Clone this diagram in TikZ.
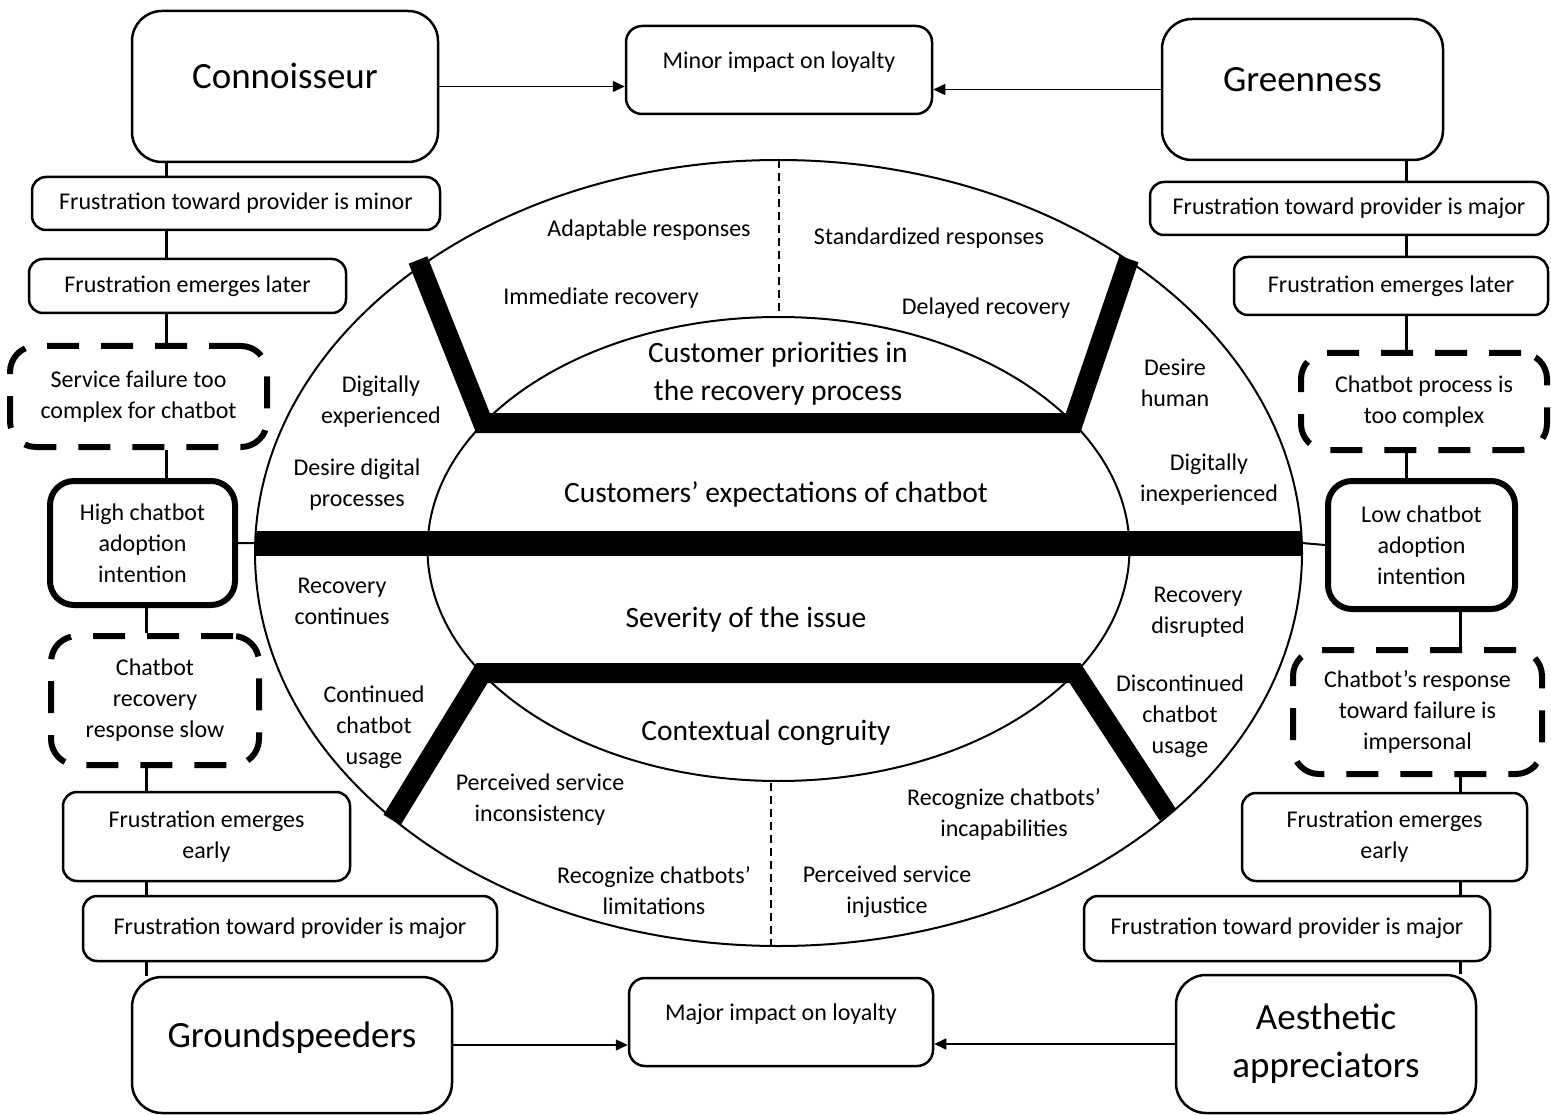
\documentclass[tikz,border=0pt]{standalone}
\usepackage{fontspec}
\setmainfont{Carlito}
\usetikzlibrary{arrows.meta}

\begin{document}
\begin{tikzpicture}[x=1pt,y=-1pt,line join=round,>={Triangle[length=12pt,width=11pt]}]
	\tikzset{every node/.style={font=\fontsize{24}{31}\selectfont,align=center,inner sep=0pt},
		sz/.style 2 args={minimum width=#1pt,minimum height=#2pt},
		box/.style={draw,line width=2.5pt,rounded corners=14pt},
		bigbox/.style={draw,line width=2.5pt,rounded corners=30pt,font=\fontsize{37}{48}\selectfont},
		dbox/.style={draw,line width=6pt,rounded corners=26pt,dash pattern=on 32pt off 22pt},
		tbox/.style={draw,line width=6pt,rounded corners=24pt},
		impact/.style={draw,line width=2.5pt,rounded corners=16pt,font=\fontsize{24}{30}\selectfont,text depth=20pt},
		title/.style={font=\fontsize{29.5}{38}\selectfont},
		link/.style={line width=3pt},
		arr/.style={->,line width=1.5pt},
		bar/.style={line width=20pt,line join=miter},
		sep/.style={line width=1.5pt,dash pattern=on 8pt off 5pt}}
	\useasboundingbox (0,0) rectangle (1551,1115);
	\draw[line width=2pt] (778.5,553) ellipse [x radius=523.5,y radius=393];
	\draw[line width=2pt] (778.5,549) ellipse [x radius=351,y radius=232];
	\draw[sep] (779,160)--(779,317) (771,783)--(771,946);
	\draw[bar] (418,260)--(483,423)--(1073,423)--(1129,259);
	\draw[bar] (392,820)--(482,673)--(1075,673)--(1168,815);
	\coordinate (barL) at (255,543);
	\coordinate (barR) at (1302,543);
	\draw[line width=25pt] (barL)--(barR);

	\node (adapt) at (649,230) {Adaptable responses};
	\node (stand) at (929,238) {Standardized responses};
	\node (immed) at (601,298) {Immediate recovery};
	\node (delay) at (986,308) {Delayed recovery};
	\node[title] (prior) at (778,374) {Customer priorities in\\the recovery process};
	\node[title] (expect) at (776,494) {Customers’ expectations of chatbot};
	\node[title] (sever) at (746,620) {Severity of the issue};
	\node[title] (congr) at (766,733) {Contextual congruity};
	\node (digexp) at (381,402) {Digitally\\experienced};
	\node (desdig) at (357,485) {Desire digital\\processes};
	\node (reccont) at (342,601) {Recovery\\continues};
	\node (contuse) at (374,727) {Continued\\chatbot\\usage};
	\node (incons) at (540,800) {Perceived service\\inconsistency};
	\node (limit) at (654,891) {Recognize chatbots’\\limitations};
	\node (injust) at (887,892) {Perceived service\\injustice};
	\node (incap) at (1004,814) {Recognize chatbots’\\incapabilities};
	\node (deshum) at (1175,383) {Desire\\human};
	\node (diginexp) at (1209,480) {Digitally\\inexperienced};
	\node (recdis) at (1198,612) {Recovery\\disrupted};
	\node (discuse) at (1180,716) {Discontinued\\chatbot\\usage};

	\node[bigbox,sz={306}{151},text depth=22pt] (conn) at (285,86.5) {Connoisseur};
	\node[box,sz={408}{53}] (fminL) at (236,203.5) {Frustration toward provider is minor};
	\node[box,sz={317}{54}] (flateL) at (187.5,286) {Frustration emerges later};
	\node[dbox,sz={257}{101}] (sfail) at (138.5,396.5) {Service failure too\\complex for chatbot};
	\node[tbox,sz={185}{124}] (highad) at (142.5,543) {High chatbot\\adoption\\intention};
	\node[dbox,sz={208}{129}] (slowrec) at (155,700.5) {Chatbot\\recovery\\response slow};
	\node[box,sz={287}{89}] (fearlyL) at (206.5,836.5) {Frustration emerges\\early};
	\node[box,sz={414}{65}] (fmajL) at (290,928.5) {Frustration toward provider is major};
	\node[bigbox,sz={320}{136},text depth=21pt] (ground) at (292,1045) {Groundspeeders};

	\node[bigbox,sz={281}{141},text depth=19.5pt] (green) at (1302.5,89.5) {Greenness};
	\node[box,sz={398}{53}] (fmajR) at (1349,208.5) {Frustration toward provider is major};
	\node[box,sz={314}{58}] (flateR) at (1391,286) {Frustration emerges later};
	\node[dbox,sz={246}{97}] (cproc) at (1424,401.5) {Chatbot process is\\too complex};
	\node[tbox,sz={187}{128}] (lowad) at (1421.5,545) {Low chatbot\\adoption\\intention};
	\node[dbox,sz={249}{124}] (impers) at (1417.5,712) {Chatbot’s response\\toward failure is\\impersonal};
	\node[box,sz={285}{88}] (fearlyR) at (1384.5,837) {Frustration emerges\\early};
	\node[box,sz={406}{65}] (fmajRb) at (1287,928.5) {Frustration toward provider is major};
	\node[bigbox,sz={300}{138}] (aesth) at (1326,1044) {Aesthetic\\appreciators};

	\node[impact,sz={306}{88}] (minor) at (779,70) {Minor impact on loyalty};
	\node[impact,sz={304}{88}] (major) at (781,1022) {Major impact on loyalty};

	\coordinate (lc1) at (166,0);
	\coordinate (lc2) at (146,0);
	\coordinate (rc1) at (1406,0);
	\coordinate (rc2) at (1460,0);
	\draw[link] (conn.south -| lc1)--(fminL.north -| lc1);
	\draw[link] (fminL.south -| lc1)--(flateL.north -| lc1);
	\draw[link] (flateL.south -| lc1)--(sfail.north -| lc1);
	\draw[link] (sfail.south -| lc1)--(highad.north -| lc1);
	\draw[link] (highad.south -| lc2)--(slowrec.north -| lc2);
	\draw[link] (slowrec.south -| lc2)--(fearlyL.north -| lc2);
	\draw[link] (fearlyL.south -| lc2)--(fmajL.north -| lc2);
	\draw[link] (fmajL.south -| lc2)--(ground.north -| lc2);
	\draw[link] (green.south -| rc1)--(fmajR.north -| rc1);
	\draw[link] (fmajR.south -| rc1)--(flateR.north -| rc1);
	\draw[link] (flateR.south -| rc1)--(cproc.north -| rc1);
	\draw[link] (cproc.south -| rc1)--(lowad.north -| rc1);
	\draw[link] (lowad.south -| rc2)--(impers.north -| rc2);
	\draw[link] (impers.south -| rc2)--(fearlyR.north -| rc2);
	\draw[link] (fearlyR.south -| rc2)--(fmajRb.north -| rc2);
	\draw[link] (fmajRb.south -| rc2)--(aesth.north -| rc2);
	\draw[line width=2pt] (highad.east)--(barL) (barR)--(lowad.west);

	\draw[arr] (conn.east)--(minor.west |- conn.east);
	\draw[arr] (green.west)--(minor.east |- green.west);
	\draw[arr] (ground.east)--(major.west |- ground.east);
	\draw[arr] (aesth.west)--(major.east |- aesth.west);
\end{tikzpicture}
\end{document}
